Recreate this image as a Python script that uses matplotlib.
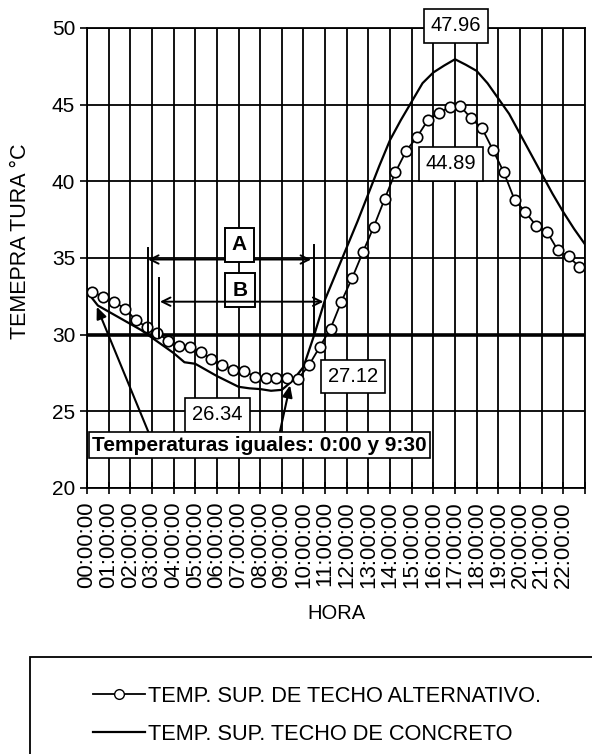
import numpy as np
import matplotlib.pyplot as plt
from matplotlib.lines import Line2D
from matplotlib.patches import Rectangle

plt.rcParams['font.family'] = ['Liberation Sans', 'DejaVu Sans']

# Techo alternativo: lecturas cada 30 min (los circulos van desplazados 1/4 h en la grafica)
alt = [32.8, 32.45, 32.15, 31.7, 30.95, 30.5, 30.1, 29.6, 29.25, 29.2,
       28.9, 28.4, 28.05, 27.7, 27.65, 27.25, 27.2, 27.15, 27.15, 27.12,
       28.0, 29.2, 30.4, 32.15, 33.7, 35.4, 37.05, 38.85, 40.6, 42.0,
       42.9, 44.0, 44.45, 44.85, 44.89, 44.1, 43.45, 42.05, 40.6, 38.8,
       38.0, 37.1, 36.7, 35.5, 35.1, 34.4]

# Techo de concreto: cada 30 min de 0:00 a 23:00
concreto = [32.8, 31.9, 31.5, 31.1, 30.7, 30.3, 29.8, 29.3, 28.8, 28.2,
            28.1, 27.7, 27.3, 26.95, 26.6, 26.5, 26.45, 26.34, 26.4, 27.0,
            27.9, 30.0, 32.3, 34.0, 35.7, 37.4, 39.2, 41.0, 42.7, 44.0,
            45.2, 46.4, 47.1, 47.55, 47.96, 47.6, 47.2, 46.4, 45.4, 44.4,
            43.1, 41.8, 40.5, 39.2, 38.0, 36.9, 35.9]

horas = [f'{h:02d}:00:00' for h in range(23)]

x_alt = np.arange(len(alt)) * 0.5 + 0.25
x_conc = np.arange(len(concreto)) * 0.5

fig = plt.figure(figsize=(5.92, 7.54), dpi=100)
ax = fig.add_axes([0.147, 0.3528, 0.841, 0.6101])

# cuadricula
ax.set_xlim(0, 23)
ax.set_ylim(20, 50)
ax.set_xticks(range(24))
ax.set_xticklabels(horas + [''], rotation=90, fontsize=16)
ax.set_yticks(range(20, 51, 5))
ax.tick_params(axis='y', labelsize=15, direction='out', length=5, width=1.2)
ax.tick_params(axis='x', direction='inout', length=9, width=1.2, pad=5)
ax.grid(True, color='black', linewidth=1.3)
ax.axhline(30, color='black', linewidth=2.6, zorder=2)
for s in ax.spines.values():
    s.set_linewidth(1.3)

# curvas
ax.plot(x_conc, concreto, color='black', linewidth=1.6, zorder=3)
ax.plot(x_alt, alt, color='black', linewidth=1.3, marker='o', markersize=7.5,
        markerfacecolor='white', markeredgecolor='black', markeredgewidth=1.2, zorder=4)

ax.set_ylabel('TEMEPRA TURA °C', fontsize=15.5)
ax.yaxis.set_label_coords(-0.112, 0.536)
ax.set_xlabel('HORA', fontsize=14.5, labelpad=12)

# etiquetas de valores
caja = dict(boxstyle='square,pad=0.35', facecolor='white', edgecolor='black', linewidth=1.2)
ax.text(17.04, 50.13, '47.96', fontsize=14.5, ha='center', va='center', bbox=caja, zorder=6)
ax.text(16.81, 41.13, '44.89', fontsize=14.5, ha='center', va='center', bbox=caja, zorder=6)
ax.text(12.29, 27.3, '27.12', fontsize=14.5, ha='center', va='center', bbox=caja, zorder=6)
ax.text(6.03, 24.76, '26.34', fontsize=14.5, ha='center', va='center', bbox=caja, zorder=6)

# intervalos A y B
flecha = dict(arrowstyle='<->,head_length=0.6,head_width=0.3', color='black', lw=1.4,
              shrinkA=0, shrinkB=0)
ax.annotate('', xy=(2.82, 34.9), xytext=(10.35, 34.9), arrowprops=flecha, zorder=5)
ax.annotate('', xy=(3.37, 32.15), xytext=(10.92, 32.15), arrowprops=flecha, zorder=5)
ax.plot([2.82, 2.82], [35.65, 30.1], color='black', linewidth=1.4, zorder=5)
ax.plot([10.49, 10.49], [35.85, 30.1], color='black', linewidth=1.4, zorder=5)
ax.plot([3.34, 3.34], [33.67, 29.86], color='black', linewidth=1.4, zorder=5)
caja_ab = dict(boxstyle='square,pad=0.35', facecolor='white', edgecolor='black', linewidth=1.4)
ax.text(7.04, 35.85, 'A', fontsize=15, fontweight='bold', ha='center', va='center',
        bbox=caja_ab, zorder=6)
ax.text(7.06, 32.9, 'B', fontsize=15, fontweight='bold', ha='center', va='center',
        bbox=caja_ab, zorder=4)

# temperaturas iguales
punta = dict(arrowstyle='-|>,head_length=0.7,head_width=0.3', color='black', lw=1.5,
             shrinkA=0, shrinkB=0)
ax.annotate('', xy=(0.45, 31.82), xytext=(2.83, 23.67), arrowprops=punta, zorder=5)
ax.annotate('', xy=(9.38, 26.7), xytext=(8.91, 23.67), arrowprops=punta, zorder=5)
ax.text(7.97, 22.8, 'Temperaturas iguales: 0:00 y 9:30', fontsize=15, fontweight='bold',
        ha='center', va='center', zorder=6,
        bbox=dict(boxstyle='square,pad=0.15', facecolor='white', edgecolor='black', linewidth=1.2))

# leyenda
fig.patches.append(Rectangle((30 / 592, -0.05), 1.0, 1 - 657 / 754 + 0.05,
                             transform=fig.transFigure, facecolor='white',
                             edgecolor='black', linewidth=1.3))
handles = [Line2D([], [], color='black', linewidth=1.3, marker='o', markersize=7,
                  markerfacecolor='white', markeredgecolor='black'),
           Line2D([], [], color='black', linewidth=1.6)]
fig.legend(handles, ['TEMP. SUP. DE TECHO ALTERNATIVO.', 'TEMP. SUP. TECHO DE CONCRETO'],
           loc='upper left', bbox_to_anchor=(73 / 592, 1 - 666 / 754), frameon=False,
           fontsize=15.7, handlelength=2.4, handletextpad=0.15, labelspacing=0.8)

fig.savefig('out.png', dpi=100)
